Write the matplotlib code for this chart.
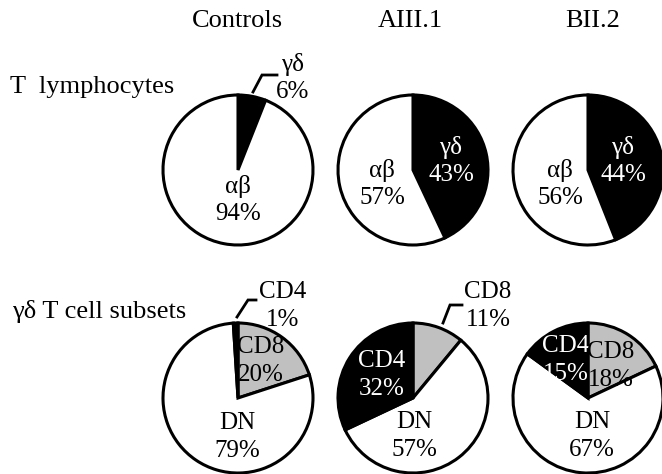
import matplotlib.pyplot as plt

# donor groups and measured fractions (%)
groups = ["Controls", "AIII.1", "BII.2"]
gd_pct = [6, 43, 44]      # gamma-delta T cells
ab_pct = [94, 57, 56]     # alpha-beta T cells
cd8_pct = [20, 11, 18]    # gd subsets
dn_pct = [79, 57, 67]
cd4_pct = [1, 32, 15]

W, H = 662, 474
GREY = "#c0c0c0"
plt.rcParams["font.family"] = ["Liberation Serif", "DejaVu Serif"]

fig = plt.figure(figsize=(W / 100, H / 100), dpi=100)
ax = fig.add_axes([0, 0, 1, 1])


def py(y):
    # layout numbers are measured from the top edge
    return H - y


col_x = [238, 413, 588]
title_x = [237, 410, 593]
top_y, bot_y = 170, 398
radius = 75
wedge_kw = dict(edgecolor="black", linewidth=2.2)
lab_kw = dict(ha="center", va="center", fontsize=18, linespacing=1.3)

# column titles and row labels
for x, name in zip(title_x, groups):
    ax.text(x, py(27), name, ha="center", va="baseline", fontsize=19)
ax.text(10, py(93), "T  lymphocytes", ha="left", va="baseline", fontsize=19)
ax.text(12, py(318), "γδ T cell subsets", ha="left", va="baseline", fontsize=19)

# T lymphocytes: gd vs ab
for i in range(3):
    ax.pie([gd_pct[i], ab_pct[i]], colors=["black", "white"],
           center=(col_x[i], py(top_y)), radius=radius,
           startangle=90, counterclock=False, wedgeprops=wedge_kw)

# gd T cell subsets: CD8 / DN / CD4
for i in range(3):
    ax.pie([cd8_pct[i], dn_pct[i], cd4_pct[i]], colors=[GREY, "white", "black"],
           center=(col_x[i], py(bot_y)), radius=radius,
           startangle=90, counterclock=False, wedgeprops=wedge_kw)

# wedge labels (x, y, text, colour)
labels = [
    (293, 78, f"γδ\n{gd_pct[0]}%", "black"),
    (238, 200, f"αβ\n{ab_pct[0]}%", "black"),
    (382, 184, f"αβ\n{ab_pct[1]}%", "black"),
    (451, 161, f"γδ\n{gd_pct[1]}%", "white"),
    (560, 184, f"αβ\n{ab_pct[2]}%", "black"),
    (623, 161, f"γδ\n{gd_pct[2]}%", "white"),
    (283, 306, f"CD4\n{cd4_pct[0]}%", "black"),
    (261, 361, f"CD8\n{cd8_pct[0]}%", "black"),
    (237, 437, f"DN\n{dn_pct[0]}%", "black"),
    (488, 306, f"CD8\n{cd8_pct[1]}%", "black"),
    (382, 375, f"CD4\n{cd4_pct[1]}%", "white"),
    (414, 436, f"DN\n{dn_pct[1]}%", "black"),
    (566, 360, f"CD4\n{cd4_pct[2]}%", "white"),
    (611, 366, f"CD8\n{cd8_pct[2]}%", "black"),
    (592, 436, f"DN\n{dn_pct[2]}%", "black"),
]
for x, y, s, c in labels:
    ax.text(x, py(y), s, color=c, **lab_kw)

# leader lines for the small wedges
leaders = [
    [(253, 92), (262, 75), (277, 75)],
    [(237, 317), (248, 300), (256, 300)],
    [(443, 323), (450, 305), (462, 305)],
]
for pts in leaders:
    ax.plot([p[0] for p in pts], [py(p[1]) for p in pts],
            color="black", linewidth=2, solid_joinstyle="miter")

# pie() resets the view, so fix the pixel frame afterwards
ax.set_xlim(0, W)
ax.set_ylim(0, H)
ax.set_aspect("equal")
ax.axis("off")

fig.savefig("out.png", dpi=100)
